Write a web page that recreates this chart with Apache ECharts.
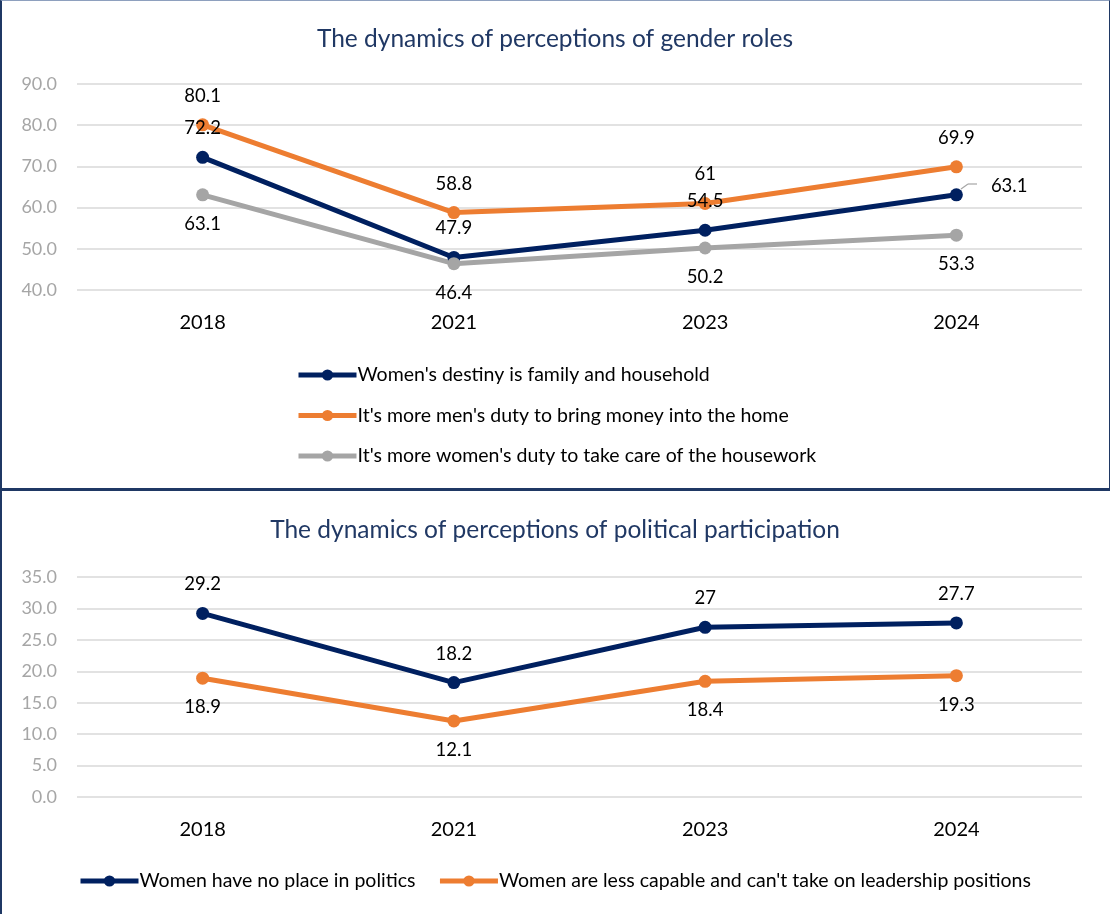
<!DOCTYPE html>
<html>
<head>
<meta charset="utf-8">
<script src="https://cdn.jsdelivr.net/npm/echarts@6/dist/echarts.min.js"></script>
<style>
  html, body { margin: 0; padding: 0; background: #fff; }
  #chart { width: 1110px; height: 914px; position: relative; }
  #frameTop { position: absolute; left: 0; top: 0; width: 1107px; height: 487px;
    border-left: 2px solid #1F3864; border-top: 1px solid #8EA0BE; border-right: 1px solid #1F3864;
    border-bottom: 3px solid #1F3864; pointer-events: none; }
  #frameBottom { position: absolute; left: 0; top: 491px; width: 0; height: 423px;
    border-left: 2px solid #1F3864; pointer-events: none; }
</style>
</head>
<body>
<div id="chart"></div>
<div id="frameTop"></div>
<div id="frameBottom"></div>
<script>
  var years = ['2018', '2021', '2023', '2024'];

  // gender roles
  var destinyName = "Women's destiny is family and household";
  var destiny = [72.2, 47.9, 54.5, 63.1];
  var moneyName = "It's more men's duty to bring money into the home";
  var money = [80.1, 58.8, 61, 69.9];
  var houseworkName = "It's more women's duty to take care of the housework";
  var housework = [63.1, 46.4, 50.2, 53.3];

  // political participation
  var noPlaceName = 'Women have no place in politics';
  var noPlace = [29.2, 18.2, 27, 27.7];
  var lessCapableName = "Women are less capable and can't take on leadership positions";
  var lessCapable = [18.9, 12.1, 18.4, 19.3];

  var NAVY = '#002060', ORANGE = '#ED7D31', GREY = '#A5A5A5';
  var FONT = 'Lato';

  var myChart = echarts.init(document.getElementById('chart'));

  function lineSeries(name, data, color, pos, gi) {
    return {
      name: name, type: 'line', data: data,
      xAxisIndex: gi, yAxisIndex: gi,
      symbol: 'circle', symbolSize: 13,
      lineStyle: { width: 5, color: color },
      itemStyle: { color: color },
      label: { show: true, position: pos, distance: 13, color: '#000',
        fontSize: 18.5, fontFamily: FONT,
        formatter: function (p) { return String(p.value); } },
      emphasis: { disabled: true },
      animation: false
    };
  }

  function xAxis(gi) {
    return {
      type: 'category', data: years, gridIndex: gi, boundaryGap: true,
      axisLine: { show: false }, axisTick: { show: false },
      axisLabel: { color: '#000', fontSize: 20, fontFamily: FONT, margin: 23 }
    };
  }

  function yAxis(gi, min, max, step) {
    return {
      type: 'value', gridIndex: gi, min: min, max: max, interval: step,
      axisLabel: { color: '#A6A6A6', fontSize: 18, fontFamily: FONT, margin: 20,
        formatter: function (v) { return v.toFixed(1); } },
      splitLine: { lineStyle: { color: '#D9D9D9', width: 1.5 } }
    };
  }

  var legendText = { color: '#000', fontSize: 19.5, fontFamily: FONT, lineHeight: 22, padding: [0, 0, 0, -4] };

  var destinySeries = lineSeries(destinyName, destiny, NAVY, 'top', 0);
  destinySeries.data = destiny.map(function (v, i) {
    if (i === 3) {
      return { value: v, label: { position: 'right', distance: 28, offset: [0, -9] } };
    }
    return v;
  });

  myChart.setOption({
    title: [
      { text: 'The dynamics of perceptions of gender roles', left: 'center', top: 22,
        textStyle: { color: '#203864', fontSize: 24.5, fontWeight: 'normal', fontFamily: FONT } },
      { text: 'The dynamics of perceptions of political participation', left: 'center', top: 513,
        textStyle: { color: '#203864', fontSize: 24.5, fontWeight: 'normal', fontFamily: FONT } }
    ],
    legend: [
      { data: [destinyName, moneyName, houseworkName], orient: 'vertical', left: 291, top: 359,
        itemWidth: 58, itemHeight: 14, itemGap: 18.5,
        lineStyle: { width: 5 }, textStyle: legendText },
      { data: [noPlaceName, lessCapableName], orient: 'horizontal', left: 73, top: 865,
        itemWidth: 58, itemHeight: 14, itemGap: 22,
        lineStyle: { width: 5 }, textStyle: legendText }
    ],
    grid: [
      { left: 77, right: 28, top: 84, height: 206 },
      { left: 77, right: 28, top: 577, height: 220 }
    ],
    xAxis: [xAxis(0), xAxis(1)],
    yAxis: [yAxis(0, 40, 90, 10), yAxis(1, 0, 35, 5)],
    graphic: [
      { type: 'line', silent: true, shape: { x1: 961, y1: 189, x2: 968, y2: 184 },
        style: { stroke: '#A6A6A6', lineWidth: 1.2 } },
      { type: 'line', silent: true, shape: { x1: 968, y1: 184, x2: 977, y2: 184 },
        style: { stroke: '#A6A6A6', lineWidth: 1.2 } }
    ],
    series: [
      destinySeries,
      lineSeries(moneyName, money, ORANGE, 'top', 0),
      lineSeries(houseworkName, housework, GREY, 'bottom', 0),
      lineSeries(noPlaceName, noPlace, NAVY, 'top', 1),
      lineSeries(lessCapableName, lessCapable, ORANGE, 'bottom', 1)
    ]
  });
</script>
</body>
</html>
